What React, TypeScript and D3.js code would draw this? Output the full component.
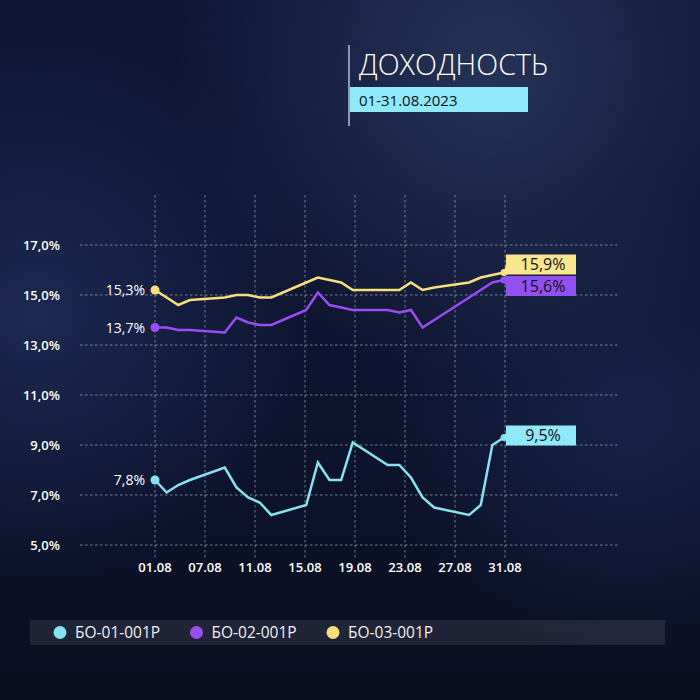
import React from 'react';
import * as d3 from 'd3';

// trading days of August 2023
const days = [1, 2, 3, 4, 7, 8, 9, 10, 11, 14, 15, 16, 17, 18, 21, 22, 23, 24, 25, 28, 29, 30, 31];
const bo01 = [7.6, 7.1, 7.4, 7.6, 8.1, 7.3, 6.9, 6.7, 6.2, 6.6, 8.3, 7.6, 7.6, 9.1, 8.2, 8.2, 7.7, 6.9, 6.5, 6.2, 6.6, 9.0, 9.3];
const bo02 = [13.7, 13.7, 13.6, 13.6, 13.5, 14.1, 13.9, 13.8, 13.8, 14.4, 15.1, 14.6, 14.5, 14.4, 14.4, 14.3, 14.4, 13.7, 14.0, 14.9, 15.2, 15.5, 15.6];
const bo03 = [15.2, 14.9, 14.6, 14.8, 14.9, 15.0, 15.0, 14.9, 14.9, 15.5, 15.7, 15.6, 15.5, 15.2, 15.2, 15.2, 15.5, 15.2, 15.3, 15.5, 15.7, 15.8, 15.9];

const seriesNames = ['БО-01-001Р', 'БО-02-001Р', 'БО-03-001Р'];
const startLabels = ['7,8%', '13,7%', '15,3%'];
const endLabels = ['9,5%', '15,6%', '15,9%'];
const xTickLabels = ['01.08', '07.08', '11.08', '15.08', '19.08', '23.08', '27.08', '31.08'];
const yTicks = [5, 7, 9, 11, 13, 15, 17];

const lineColors = ['#86e2f0', '#9a4cf5', '#f6df7c'];
const boxColors = ['#8fe9f8', '#9150ef', '#fae68c'];
const boxShift = [-2, 6, -8];

const font = '"Open Sans", "DejaVu Sans", sans-serif';

const App: React.FC = () => {
  const W = 700, H = 700;
  const values = [bo01, bo02, bo03];

  const x = d3.scaleTime()
    .domain([new Date(2023, 7, 1), new Date(2023, 7, 31)])
    .range([155, 504]);
  const xTick = d3.scalePoint<string>().domain(xTickLabels).range([155, 505]);
  const y = d3.scaleLinear().domain([5, 17]).range([545, 245]);

  const line = d3.line<number>()
    .x((_, i) => x(new Date(2023, 7, days[i])))
    .y(d => y(d));

  const fmt = (v: number) => v.toFixed(1).replace('.', ',') + '%';

  return (
    <svg width={W} height={H} style={{ display: 'block', position: 'absolute', left: 0, top: 0 }}>
      <defs>
        <radialGradient id="neb1" cx="0.7" cy="0.1" r="0.45">
          <stop offset="0" stopColor="#34466f" stopOpacity="0.6" />
          <stop offset="1" stopColor="#34466f" stopOpacity="0" />
        </radialGradient>
        <radialGradient id="neb2" cx="0.05" cy="0.45" r="0.4">
          <stop offset="0" stopColor="#27386a" stopOpacity="0.55" />
          <stop offset="1" stopColor="#27386a" stopOpacity="0" />
        </radialGradient>
        <radialGradient id="neb3" cx="0.9" cy="0.6" r="0.35">
          <stop offset="0" stopColor="#22325f" stopOpacity="0.5" />
          <stop offset="1" stopColor="#22325f" stopOpacity="0" />
        </radialGradient>
        <linearGradient id="bg" x1="0" y1="0" x2="0" y2="1">
          <stop offset="0" stopColor="#0f1634" />
          <stop offset="0.6" stopColor="#0d142e" />
          <stop offset="1" stopColor="#090d20" />
        </linearGradient>
      </defs>
      <rect width={W} height={H} fill="url(#bg)" />
      <rect width={W} height={H} fill="url(#neb1)" />
      <rect width={W} height={H} fill="url(#neb2)" />
      <rect width={W} height={H} fill="url(#neb3)" />

      {/* title */}
      <line x1={349} x2={349} y1={45} y2={126} stroke="#b9bfd0" strokeWidth={1.5} />
      <text x={359} y={75} fill="#ffffff" fontFamily={font} fontSize={29} fontWeight={300}
        textLength={189} lengthAdjust="spacingAndGlyphs">ДОХОДНОСТЬ</text>
      <rect x={350} y={87} width={178} height={25} fill="#8fe9f8" />
      <text x={359} y={106} fill="#0b1020" fontFamily={font} fontSize={15}>01-31.08.2023</text>

      {/* grid */}
      {yTicks.map(t => (
        <g key={t}>
          <line x1={80} x2={620} y1={y(t)} y2={y(t)} stroke="#c9cdd8" strokeOpacity={0.55}
            strokeDasharray="2.5,2.5" strokeWidth={1} />
          <text x={60} y={y(t) + 4.5} textAnchor="end" fill="#ffffff" fontFamily={font}
            fontSize={13} fontWeight={600}>{fmt(t)}</text>
        </g>
      ))}
      {xTickLabels.map(l => (
        <g key={l}>
          <line x1={xTick(l)} x2={xTick(l)} y1={195} y2={560} stroke="#c9cdd8" strokeOpacity={0.55}
            strokeDasharray="2.5,2.5" strokeWidth={1} />
          <text x={xTick(l)} y={572} textAnchor="middle" fill="#ffffff" fontFamily={font}
            fontSize={13} fontWeight={600}>{l}</text>
        </g>
      ))}

      {/* series */}
      {values.map((vals, si) => {
        const x0 = x(new Date(2023, 7, days[0]));
        const x1 = x(new Date(2023, 7, days[days.length - 1]));
        const y0 = y(vals[0]);
        const y1 = y(vals[vals.length - 1]);
        const by = y1 - 10 + boxShift[si];
        return (
          <g key={si}>
            <path d={line(vals) ?? ''} fill="none" stroke={lineColors[si]} strokeWidth={2.5}
              strokeLinejoin="miter" />
            <circle cx={x0} cy={y0} r={4.5} fill={lineColors[si]} />
            <circle cx={x1} cy={y1} r={3.5} fill={lineColors[si]} />
            <text x={145} y={y0 + 5} textAnchor="end" fill="#ffffff" fontFamily={font}
              fontSize={14} fontWeight={500}>{startLabels[si]}</text>
            <path d={`M${x1},${y1} L${x1 + 3},${by + 4} L${x1 + 3},${by + 16} Z`} fill={boxColors[si]} />
            <rect x={x1 + 2} y={by} width={70} height={20} fill={boxColors[si]} />
            <text x={x1 + 39} y={by + 15.5} textAnchor="middle" fill="#111424" fontFamily={font}
              fontSize={16}>{endLabels[si]}</text>
          </g>
        );
      })}

      {/* legend */}
      <rect x={30} y={620} width={635} height={25} fill="#ffffff" fillOpacity={0.09} />
      {seriesNames.map((n, i) => (
        <g key={n} transform={`translate(${60 + i * 136.5},632.5)`}>
          <circle r={6.5} fill={lineColors[i]} />
          <text x={15} y={5.5} fill="#eef0f6" fontFamily={font} fontSize={15.5}>{n}</text>
        </g>
      ))}
    </svg>
  );
};

export default App;
